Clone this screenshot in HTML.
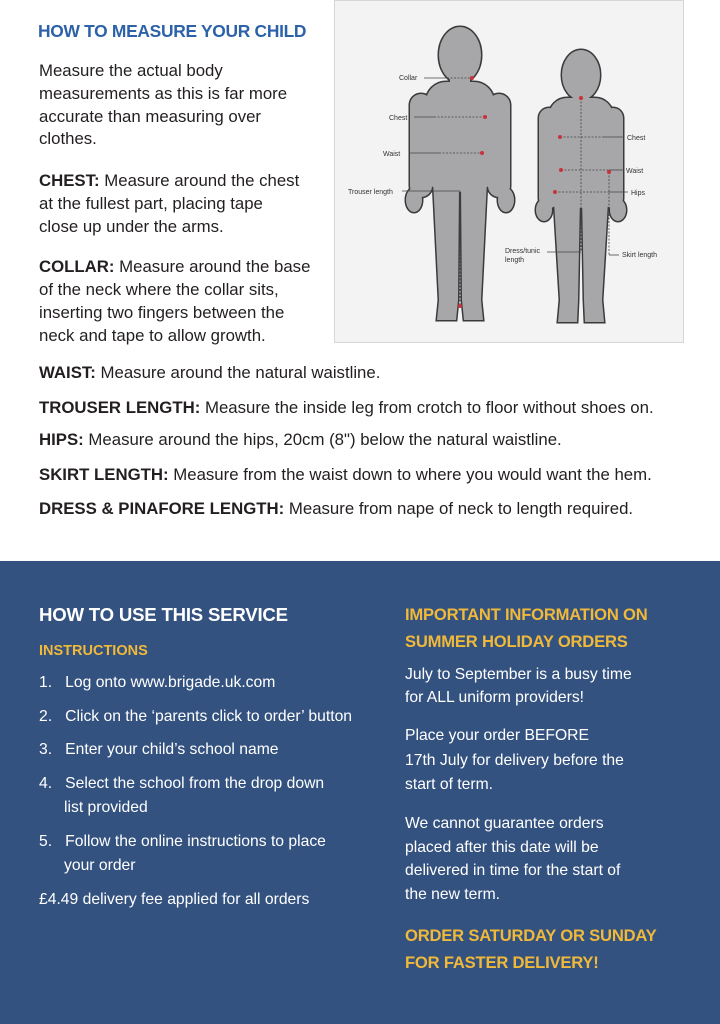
<!DOCTYPE html>
<html><head><meta charset="utf-8"><style>
*{margin:0;padding:0;box-sizing:border-box}
body{width:720px;height:1024px;position:relative;background:#fff;font-family:"Liberation Sans",sans-serif;overflow:hidden;color:#231f20}
.t{position:absolute;white-space:nowrap;font-size:16.8px;line-height:20px;letter-spacing:0}
.b{font-weight:bold}
.panel{position:absolute;left:0;top:561px;width:720px;height:463px;background:#34527f}
.w{color:#fff;font-size:15.7px}
.g{color:#f0b93a;font-weight:bold}
</style></head><body>
<div class="t b" style="left:38px;top:21px;font-size:17.4px;color:#2d62a9;letter-spacing:-0.3px">HOW TO MEASURE YOUR CHILD</div>
<div class="t" style="left:39px;top:61px">Measure the actual body</div>
<div class="t" style="left:39px;top:84px">measurements as this is far more</div>
<div class="t" style="left:39px;top:107px">accurate than measuring over</div>
<div class="t" style="left:39px;top:129px">clothes.</div>
<div class="t" style="left:39px;top:171px"><b>CHEST:</b> Measure around the chest</div>
<div class="t" style="left:39px;top:194px">at the fullest part, placing tape</div>
<div class="t" style="left:39px;top:217px">close up under the arms.</div>
<div class="t" style="left:39px;top:257px"><b>COLLAR:</b> Measure around the base</div>
<div class="t" style="left:39px;top:280px">of the neck where the collar sits,</div>
<div class="t" style="left:39px;top:303px">inserting two fingers between the</div>
<div class="t" style="left:39px;top:326px">neck and tape to allow growth.</div>
<div class="t" style="left:39px;top:363px"><b>WAIST:</b> Measure around the natural waistline.</div>
<div class="t" style="left:39px;top:398px"><b>TROUSER LENGTH:</b> Measure the inside leg from crotch to floor without shoes on.</div>
<div class="t" style="left:39px;top:430px"><b>HIPS:</b> Measure around the hips, 20cm (8") below the natural waistline.</div>
<div class="t" style="left:39px;top:465px"><b>SKIRT LENGTH:</b> Measure from the waist down to where you would want the hem.</div>
<div class="t" style="left:39px;top:499px"><b>DRESS &amp; PINAFORE LENGTH:</b> Measure from nape of neck to length required.</div>

<svg style="position:absolute;left:334px;top:0" width="350" height="344" viewBox="0 0 350 344" font-family="Liberation Sans,sans-serif" font-size="7" fill="#333">
<rect x="0.5" y="0.5" width="349" height="342" fill="#f3f3f4" stroke="#d6d6da"/>
<g id="m">
<ellipse cx="126" cy="55" rx="21" ry="28"/>
<rect x="116" y="72" width="20" height="18"/>
<rect x="92" y="82" width="68" height="110" rx="20"/>
<rect x="76" y="94" width="22" height="103" rx="11"/>
<rect x="154" y="94" width="22" height="103" rx="11"/>
<ellipse cx="80" cy="200" rx="8" ry="12"/>
<ellipse cx="172" cy="200" rx="8" ry="12"/>
<polygon points="99,180 125,185 124,300 122,320 103,320 105,300"/>
<polygon points="127,185 153,180 147,300 149,320 130,320 128,300"/>
<ellipse cx="247" cy="75" rx="19" ry="25"/>
<rect x="239" y="92" width="16" height="15"/>
<rect x="215" y="98" width="64" height="110" rx="18"/>
<rect x="205" y="108" width="20" height="100" rx="10"/>
<rect x="269" y="108" width="20" height="100" rx="10"/>
<ellipse cx="210" cy="210" rx="8" ry="11"/>
<ellipse cx="284" cy="210" rx="8" ry="11"/>
<polygon points="219,185 246,195 244,300 243,322 224,322 226,300"/>
<polygon points="248,195 275,185 268,300 270,322 251,322 250,300"/>
</g>
<use href="#m" fill="#3a3a3a" stroke="#3a3a3a" stroke-width="3"/>
<use href="#m" fill="#a7a7a9"/>
<g stroke="#444" stroke-width="0.8" fill="none">
<line x1="90" y1="78" x2="113" y2="78"/><line x1="113" y1="78" x2="138" y2="78" stroke-dasharray="2,1.5"/>
<line x1="80" y1="117" x2="100" y2="117"/><line x1="100" y1="117" x2="151" y2="117" stroke-dasharray="2,1.5"/>
<line x1="75" y1="153" x2="105" y2="153"/><line x1="105" y1="153" x2="148" y2="153" stroke-dasharray="2,1.5"/>
<line x1="68" y1="191" x2="126" y2="191"/><line x1="126" y1="191" x2="126" y2="306" stroke-dasharray="2,1.5"/>
<line x1="226" y1="137" x2="268" y2="137" stroke-dasharray="2,1.5"/><line x1="268" y1="137" x2="290" y2="137"/>
<line x1="227" y1="170" x2="275" y2="170" stroke-dasharray="2,1.5"/><line x1="275" y1="170" x2="290" y2="170"/>
<line x1="221" y1="192" x2="275" y2="192" stroke-dasharray="2,1.5"/><line x1="275" y1="192" x2="294" y2="192"/>
<line x1="247" y1="98" x2="247" y2="252" stroke-dasharray="2,1.5"/><line x1="213" y1="252" x2="247" y2="252"/>
<line x1="275" y1="172" x2="275" y2="255" stroke-dasharray="2,1.5"/><line x1="275" y1="255" x2="285" y2="255"/>
</g>
<g fill="#c8333a">
<circle cx="138" cy="78" r="2"/><circle cx="151" cy="117" r="2"/><circle cx="148" cy="153" r="2"/><circle cx="126" cy="306" r="2"/>
<circle cx="226" cy="137" r="2"/><circle cx="227" cy="170" r="2"/><circle cx="275" cy="172" r="2"/><circle cx="221" cy="192" r="2"/><circle cx="247" cy="98" r="2"/>
</g>
<text x="65" y="80">Collar</text><text x="55" y="120">Chest</text><text x="49" y="156">Waist</text><text x="14" y="194">Trouser length</text>
<text x="293" y="140">Chest</text><text x="292" y="173">Waist</text><text x="297" y="195">Hips</text>
<text x="171" y="253">Dress/tunic</text><text x="171" y="262">length</text><text x="288" y="257">Skirt length</text>
</svg>

<div class="panel"></div>
<div class="t w b" style="left:39px;top:603px;font-size:18.6px;line-height:24px;letter-spacing:-0.2px">HOW TO USE THIS SERVICE</div>
<div class="t g" style="left:39px;top:641px;font-size:14.5px">INSTRUCTIONS</div>
<div class="t w" style="left:39px;top:673px">1.&nbsp;&nbsp;&nbsp;Log onto www.brigade.uk.com</div>
<div class="t w" style="left:39px;top:707px">2.&nbsp;&nbsp;&nbsp;Click on the ‘parents click to order’ button</div>
<div class="t w" style="left:39px;top:740px">3.&nbsp;&nbsp;&nbsp;Enter your child’s school name</div>
<div class="t w" style="left:39px;top:774px">4.&nbsp;&nbsp;&nbsp;Select the school from the drop down</div>
<div class="t w" style="left:64px;top:798px">list provided</div>
<div class="t w" style="left:39px;top:832px">5.&nbsp;&nbsp;&nbsp;Follow the online instructions to place</div>
<div class="t w" style="left:64px;top:856px">your order</div>
<div class="t w" style="left:39px;top:890px">£4.49 delivery fee applied for all orders</div>

<div class="t g" style="left:405px;top:605px;font-size:16.6px;letter-spacing:-0.2px">IMPORTANT INFORMATION ON</div>
<div class="t g" style="left:405px;top:632px;font-size:16.6px;letter-spacing:-0.2px">SUMMER HOLIDAY ORDERS</div>
<div class="t w" style="left:405px;top:665px">July to September is a busy time</div>
<div class="t w" style="left:405px;top:688px">for ALL uniform providers!</div>
<div class="t w" style="left:405px;top:726px">Place your order BEFORE</div>
<div class="t w" style="left:405px;top:751px">17th July for delivery before the</div>
<div class="t w" style="left:405px;top:775px">start of term.</div>
<div class="t w" style="left:405px;top:814px">We cannot guarantee orders</div>
<div class="t w" style="left:405px;top:838px">placed after this date will be</div>
<div class="t w" style="left:405px;top:861px">delivered in time for the start of</div>
<div class="t w" style="left:405px;top:885px">the new term.</div>
<div class="t g" style="left:405px;top:926px;font-size:16.6px;letter-spacing:-0.2px">ORDER SATURDAY OR SUNDAY</div>
<div class="t g" style="left:405px;top:953px;font-size:16.6px;letter-spacing:-0.2px">FOR FASTER DELIVERY!</div>
</body></html>
